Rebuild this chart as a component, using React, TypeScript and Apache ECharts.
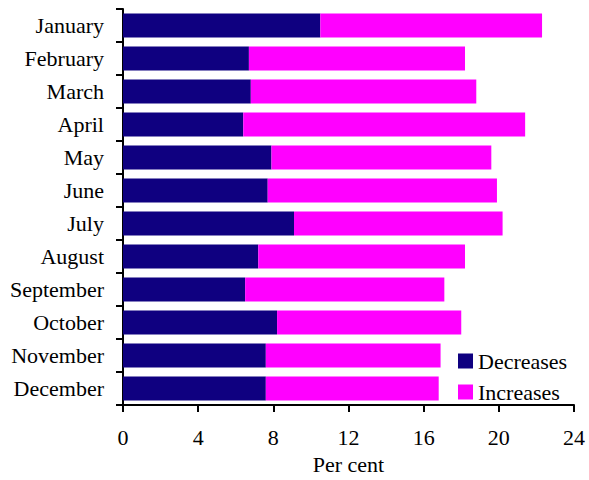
import React, { useEffect, useRef } from "react";
import * as echarts from "echarts";

const months = [
  "January", "February", "March", "April", "May", "June",
  "July", "August", "September", "October", "November", "December",
];
const decreases = [10.5, 6.7, 6.8, 6.4, 7.9, 7.7, 9.1, 7.2, 6.5, 8.2, 7.6, 7.6];
const increases = [11.8, 11.5, 12.0, 15.0, 11.7, 12.2, 11.1, 11.0, 10.6, 9.8, 9.3, 9.2];
const xMin = 0;
const xMax = 24;
const xInterval = 4;

const FONT = "Liberation Serif";

export default function App() {
  const ref = useRef<HTMLDivElement>(null);
  useEffect(() => {
    if (!ref.current) return;
    const chart = echarts.init(ref.current, null, { renderer: "svg" });
    chart.setOption({
      animation: false,
      backgroundColor: "#ffffff",
      textStyle: { fontFamily: FONT },
      grid: { left: 123, right: 15, top: 9, bottom: 72, containLabel: false },
      legend: {
        orient: "vertical",
        left: 453,
        top: 345,
        itemWidth: 15,
        itemHeight: 15,
        itemGap: 9,
        icon: "rect",
        textStyle: { fontFamily: FONT, fontSize: 22, color: "#000" },
        data: ["Decreases", "Increases"],
      },
      xAxis: {
        type: "value",
        min: xMin,
        max: xMax,
        interval: xInterval,
        name: "Per cent",
        nameLocation: "middle",
        nameGap: 48,
        nameTextStyle: { fontFamily: FONT, fontSize: 22, color: "#000" },
        axisLine: { show: true, lineStyle: { color: "#000", width: 2 } },
        axisTick: { show: true, length: 7, lineStyle: { color: "#000", width: 2 } },
        axisLabel: { fontFamily: FONT, fontSize: 22, color: "#000", margin: 21 },
        splitLine: { show: false },
      },
      yAxis: {
        type: "category",
        data: months,
        inverse: true,
        axisLine: { show: true, lineStyle: { color: "#000", width: 2 } },
        axisTick: { show: true, length: 7, lineStyle: { color: "#000", width: 2 } },
        axisLabel: { fontFamily: FONT, fontSize: 22, color: "#000", margin: 19 },
      },
      series: [
        {
          name: "Decreases",
          type: "bar",
          stack: "total",
          data: decreases,
          barWidth: 24,
          itemStyle: { color: "#0f0080" },
        },
        {
          name: "Increases",
          type: "bar",
          stack: "total",
          data: increases,
          barWidth: 24,
          itemStyle: { color: "#ff00ff" },
        },
      ],
    });
    return () => chart.dispose();
  }, []);
  return (
    <div
      ref={ref}
      style={{ position: "fixed", left: 0, top: 0, width: 589, height: 480 }}
    />
  );
}
